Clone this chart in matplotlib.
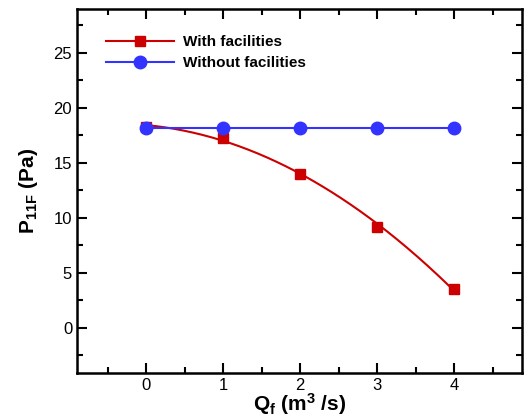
import numpy as np
import matplotlib
matplotlib.use("Agg")
import matplotlib.pyplot as plt
from matplotlib.ticker import MultipleLocator

plt.rcParams['font.family'] = ['Liberation Sans', 'DejaVu Sans']
plt.rcParams['mathtext.fontset'] = 'custom'
plt.rcParams['mathtext.rm'] = 'Liberation Sans:bold'
plt.rcParams['mathtext.it'] = 'Liberation Sans:bold'
plt.rcParams['mathtext.bf'] = 'Liberation Sans:bold'

q = [0, 1, 2, 3, 4]
with_fac = [18.3, 17.3, 14.0, 9.2, 3.5]
without_fac = [18.2, 18.2, 18.2, 18.2, 18.2]

fig = plt.figure(figsize=(5.25, 4.17), dpi=100)
ax = fig.add_axes([77/525, 1-373/417, (522-77)/525, (373-9)/417])

coef = np.polyfit(q, with_fac, 2)
xs = np.linspace(min(q), max(q), 200)
ax.plot(xs, np.polyval(coef, xs), color='#cc0000', lw=1.5)
ax.plot(q, with_fac, 's', color='#cc0000', ms=7)
ax.plot([], [], '-s', color='#cc0000', ms=7, lw=1.5, label='With facilities')
ax.plot(q, without_fac, '-o', color='#3333ff', ms=9, lw=1.5, label='Without facilities')

ax.set_xlim(-0.9, 4.88)
ax.set_ylim(-4.1, 29)
ax.xaxis.set_major_locator(MultipleLocator(1))
ax.xaxis.set_minor_locator(MultipleLocator(0.5))
ax.yaxis.set_major_locator(MultipleLocator(5))
ax.yaxis.set_minor_locator(MultipleLocator(2.5))
ax.tick_params(which='both', direction='in', top=True, right=True, width=1.5, labelsize=12)
ax.tick_params(which='major', length=7)
ax.tick_params(which='minor', length=4)
for s in ax.spines.values():
    s.set_linewidth(1.8)

ax.set_xlabel(r'Q$_{f}$ (m$^{3}$ /s)', fontsize=15, fontweight='bold', labelpad=-1)
ax.set_ylabel(r'P$_{11F}$ (Pa)', fontsize=15, fontweight='bold', labelpad=10)

leg = ax.legend(loc='upper left', bbox_to_anchor=(0.035, 0.965), frameon=False,
                prop={'weight': 'bold', 'size': 11}, handlelength=4.4, handletextpad=0.6,
                labelspacing=0.45)

fig.savefig('out.png', dpi=100)
